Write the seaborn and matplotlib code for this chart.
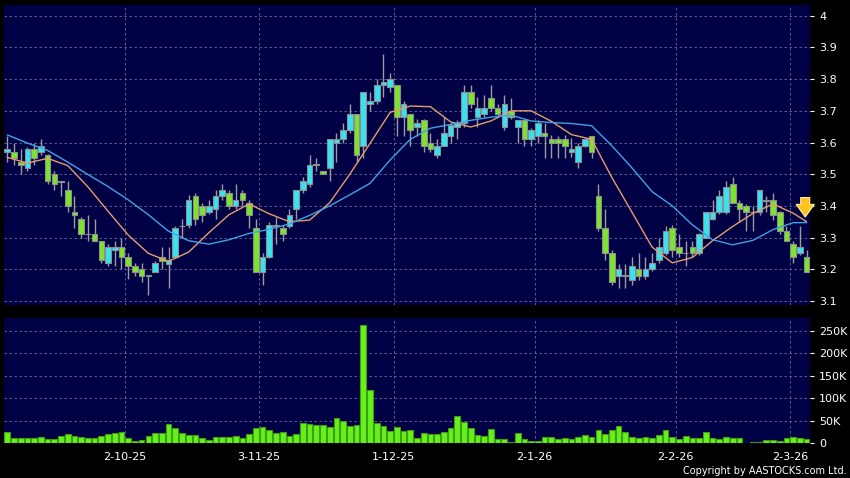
import numpy as np
import pandas as pd
import matplotlib
matplotlib.use("Agg")
import matplotlib.pyplot as plt
import seaborn as sns

# daily bars, oldest first
opens = [3.57, 3.57, 3.54, 3.52, 3.58, 3.57, 3.56, 3.50, 3.475, 3.45,
         3.38, 3.36, 3.31, 3.31, 3.29, 3.22, 3.26, 3.27, 3.24, 3.21,
         3.20, 3.18, 3.19, 3.24, 3.215, 3.24, 3.335, 3.34, 3.43, 3.40,
         3.38, 3.39, 3.43, 3.44, 3.40, 3.44, 3.41, 3.33, 3.19, 3.24,
         3.34, 3.33, 3.335, 3.39, 3.45, 3.47, 3.53, 3.51, 3.52, 3.60,
         3.61, 3.64, 3.69, 3.59, 3.72, 3.73, 3.78, 3.775, 3.78, 3.68,
         3.69, 3.65, 3.67, 3.60, 3.56, 3.59, 3.62, 3.65, 3.66, 3.76,
         3.68, 3.69, 3.74, 3.71, 3.65, 3.70, 3.65, 3.67, 3.61, 3.62,
         3.63, 3.61, 3.61, 3.61, 3.57, 3.54, 3.59, 3.62, 3.43, 3.33,
         3.25, 3.18, 3.18, 3.165, 3.20, 3.18, 3.20, 3.23, 3.25, 3.33,
         3.27, 3.25, 3.27, 3.25, 3.30, 3.36, 3.38, 3.38, 3.47, 3.41,
         3.40, 3.38, 3.38, 3.415, 3.42, 3.38, 3.32, 3.28, 3.25, 3.24]
highs = [3.62, 3.60, 3.58, 3.585, 3.60, 3.61, 3.565, 3.51, 3.48, 3.48,
         3.43, 3.365, 3.37, 3.36, 3.29, 3.28, 3.29, 3.30, 3.25, 3.22,
         3.22, 3.18, 3.225, 3.27, 3.27, 3.335, 3.36, 3.435, 3.44, 3.41,
         3.42, 3.45, 3.47, 3.45, 3.47, 3.45, 3.42, 3.36, 3.25, 3.35,
         3.365, 3.34, 3.39, 3.45, 3.49, 3.56, 3.55, 3.51, 3.61, 3.63,
         3.66, 3.72, 3.69, 3.76, 3.76, 3.80, 3.88, 3.82, 3.78, 3.73,
         3.69, 3.675, 3.675, 3.63, 3.61, 3.68, 3.66, 3.67, 3.78, 3.78,
         3.745, 3.75, 3.78, 3.72, 3.75, 3.74, 3.67, 3.67, 3.645, 3.67,
         3.66, 3.625, 3.62, 3.625, 3.615, 3.60, 3.615, 3.62, 3.47, 3.39,
         3.26, 3.215, 3.215, 3.24, 3.25, 3.24, 3.25, 3.30, 3.335, 3.34,
         3.31, 3.29, 3.29, 3.315, 3.38, 3.42, 3.45, 3.48, 3.49, 3.42,
         3.405, 3.40, 3.45, 3.43, 3.44, 3.385, 3.335, 3.29, 3.335, 3.26]
lows = [3.54, 3.53, 3.50, 3.51, 3.53, 3.56, 3.47, 3.45, 3.43, 3.38,
        3.33, 3.30, 3.29, 3.29, 3.22, 3.21, 3.21, 3.20, 3.17, 3.18,
        3.16, 3.12, 3.19, 3.20, 3.14, 3.235, 3.30, 3.33, 3.34, 3.35,
        3.375, 3.36, 3.42, 3.39, 3.39, 3.40, 3.33, 3.19, 3.15, 3.235,
        3.28, 3.29, 3.33, 3.36, 3.44, 3.46, 3.51, 3.50, 3.48, 3.54,
        3.60, 3.63, 3.54, 3.55, 3.70, 3.72, 3.745, 3.76, 3.62, 3.62,
        3.59, 3.62, 3.57, 3.57, 3.55, 3.59, 3.60, 3.61, 3.65, 3.71,
        3.65, 3.68, 3.70, 3.68, 3.64, 3.675, 3.60, 3.59, 3.59, 3.60,
        3.55, 3.55, 3.55, 3.55, 3.555, 3.52, 3.585, 3.55, 3.32, 3.23,
        3.15, 3.14, 3.14, 3.15, 3.165, 3.17, 3.195, 3.22, 3.245, 3.24,
        3.24, 3.21, 3.24, 3.245, 3.30, 3.355, 3.375, 3.375, 3.41, 3.35,
        3.32, 3.32, 3.37, 3.38, 3.355, 3.31, 3.29, 3.22, 3.245, 3.19]
closes = [3.58, 3.55, 3.53, 3.58, 3.55, 3.59, 3.48, 3.47, 3.475, 3.40,
          3.37, 3.31, 3.31, 3.29, 3.23, 3.27, 3.27, 3.24, 3.21, 3.19,
          3.18, 3.18, 3.22, 3.225, 3.23, 3.33, 3.335, 3.42, 3.36, 3.37,
          3.40, 3.43, 3.45, 3.40, 3.42, 3.42, 3.37, 3.19, 3.24, 3.34,
          3.335, 3.31, 3.37, 3.45, 3.48, 3.53, 3.53, 3.50, 3.61, 3.61,
          3.64, 3.69, 3.56, 3.76, 3.73, 3.78, 3.79, 3.80, 3.68, 3.72,
          3.64, 3.66, 3.59, 3.58, 3.59, 3.63, 3.655, 3.66, 3.76, 3.72,
          3.71, 3.71, 3.71, 3.69, 3.72, 3.68, 3.67, 3.61, 3.64, 3.66,
          3.62, 3.60, 3.60, 3.59, 3.58, 3.59, 3.61, 3.57, 3.33, 3.25,
          3.16, 3.20, 3.18, 3.21, 3.18, 3.20, 3.22, 3.27, 3.32, 3.26,
          3.25, 3.25, 3.25, 3.31, 3.38, 3.38, 3.43, 3.46, 3.41, 3.39,
          3.38, 3.38, 3.45, 3.415, 3.37, 3.32, 3.29, 3.24, 3.27, 3.19]
# volume in thousands of shares
volume_k = [24.4, 11.1, 11.1, 11.1, 12.5, 14, 9.5, 9.5, 16.2, 19.9,
            16.2, 13.3, 11.1, 12.5, 16.2, 19.9, 22, 24.4, 12.5, 5.9,
            7.4, 17, 23.7, 22.2, 42.2, 34.8, 23.7, 18.5, 18.5, 12.5,
            7.4, 14.8, 14.8, 14.8, 16.2, 11.1, 20, 34.8, 37, 29.6,
            22.2, 25.9, 17, 20.7, 44.4, 43, 40.7, 40.7, 35.5, 55.5,
            50.3, 39.2, 40.7, 262.7, 118.3, 44.4, 39.2, 27.3, 36.9, 27.3,
            29.6, 12.5, 23.6, 20.7, 21.5, 24.4, 33.3, 60.6, 46.6, 34.7,
            18.4, 16.2, 31.8, 8.9, 8.9, 2.2, 23.6, 9.6, 4.4, 4.4,
            14.8, 14.8, 8.9, 11.8, 8.9, 14.8, 17.7, 14, 29.6, 21.4,
            29.6, 38.4, 24.4, 14.8, 12.5, 14.8, 12.5, 18.4, 29.6, 14,
            9.6, 16.2, 11.1, 11.1, 24.4, 11.1, 8.9, 14.8, 11.1, 12.5,
            0.7, 3, 3, 7.4, 7.4, 5.9, 11.1, 14.8, 11.8, 10.4]

# moving averages as drawn on the chart, read every third bar (+ last bar)
ma10 = [3.553, 3.535, 3.550, 3.527, 3.46, 3.383, 3.308, 3.25, 3.225, 3.254,
        3.315, 3.372, 3.406, 3.375, 3.35, 3.355, 3.41, 3.50, 3.597, 3.695,
        3.715, 3.713, 3.665, 3.649, 3.668, 3.70, 3.70, 3.667, 3.625, 3.61,
        3.49, 3.38, 3.27, 3.22, 3.237, 3.29, 3.335, 3.376, 3.406, 3.377,
        3.35]
ma20 = [3.624, 3.598, 3.575, 3.538, 3.499, 3.461, 3.419, 3.372, 3.32, 3.29,
        3.279, 3.293, 3.313, 3.326, 3.343, 3.37, 3.40, 3.435, 3.471, 3.545,
        3.61, 3.645, 3.657, 3.67, 3.68, 3.686, 3.668, 3.663, 3.66, 3.653,
        3.59, 3.52, 3.445, 3.40, 3.34, 3.293, 3.277, 3.291, 3.325, 3.347,
        3.347]

# first trading day of each month shown
month_labels = ["2-10-25", "3-11-25", "1-12-25", "2-1-26", "2-2-26", "2-3-26"]
month_first_bar = [18, 38, 58, 79, 100, 117]
price_ticks = [3.1, 3.2, 3.3, 3.4, 3.5, 3.6, 3.7, 3.8, 3.9, 4.0]
volume_ticks_k = [0, 50, 100, 150, 200, 250]

NAVY = "#000044"
UP = "#38E2F2"
DOWN = "#7CE42C"
VOL = "#66F11C"
GRID = "#6C6C98"
ORANGE = "#E89C6C"
BLUE = "#3EA4E6"

df = pd.DataFrame({"open": opens, "high": highs, "low": lows,
                   "close": closes, "volume": volume_k})
df["bar"] = np.arange(len(df))
rising = df["close"] >= df["open"]

ma_bars = list(range(0, len(df) - 2, 3)) + [len(df) - 1]
ma_df = pd.DataFrame({"bar": ma_bars, "ma10": ma10, "ma20": ma20})

sns.set_style("dark", {"axes.facecolor": NAVY, "figure.facecolor": "black",
                       "axes.edgecolor": NAVY, "grid.color": GRID})
plt.rcParams["font.family"] = ["DejaVu Sans"]

fig = plt.figure(figsize=(8.5, 4.78), dpi=100, facecolor="black")
ax = fig.add_axes([0.00465, 0.3619, 0.9482, 0.6276])
axv = fig.add_axes([0.00465, 0.0726, 0.9482, 0.2615])

# candles
ax.vlines(df["bar"], df["low"], df["high"], color="#9C9C9C", linewidth=1, zorder=2)
body_low = np.minimum(df["open"], df["close"])
body_h = np.maximum((df["close"] - df["open"]).abs(), 0.002)
ax.bar(df["bar"], body_h, bottom=body_low, width=0.84,
       color=np.where(rising, UP, DOWN), edgecolor="#8E8E8E",
       linewidth=0.8, zorder=3)

sns.lineplot(data=ma_df, x="bar", y="ma10", ax=ax, color=ORANGE, linewidth=1, zorder=4)
sns.lineplot(data=ma_df, x="bar", y="ma20", ax=ax, color=BLUE, linewidth=1, zorder=4)

ax.annotate("", xy=(len(df) - 1.2, 3.356), xytext=(len(df) - 1.2, 3.435),
            arrowprops=dict(arrowstyle="simple,head_length=0.7,head_width=1.0,tail_width=0.5",
                            fc="#FFC21E", ec="#FFF1A8", lw=0.8, mutation_scale=13),
            zorder=6)

ax.set_xlim(-0.5, len(df) - 0.5)
ax.set_ylim(3.087, 4.034)
ax.yaxis.tick_right()
ax.set_yticks(price_ticks)
ax.set_yticklabels([f"{t:g}" for t in price_ticks])
ax.set_xticks(np.array(month_first_bar) - 0.5)
ax.tick_params(axis="x", length=0, labelbottom=False)
ax.tick_params(axis="y", colors="white", labelsize=8, length=3, pad=3.5)
ax.set_xlabel("")
ax.set_ylabel("")

# volume
sns.barplot(data=df, x="bar", y="volume", ax=axv, native_scale=True,
            color=VOL, saturation=1, edgecolor="#3E9E12", linewidth=0.8,
            width=0.85, errorbar=None, zorder=3)
axv.set_xlim(-0.5, len(df) - 0.5)
axv.set_ylim(0, 277.5)
axv.yaxis.tick_right()
axv.set_yticks(volume_ticks_k)
axv.set_yticklabels([f"{v}K" if v else "0" for v in volume_ticks_k])
axv.set_xticks(np.array(month_first_bar) - 0.5)
axv.set_xticklabels(month_labels)
axv.tick_params(axis="x", colors="white", labelsize=8, length=3, pad=3.5)
axv.tick_params(axis="y", colors="white", labelsize=8, length=3, pad=3.5)
axv.set_xlabel("")
axv.set_ylabel("")

for a in (ax, axv):
    a.grid(True, color=GRID, linestyle=(0, (3, 3)), linewidth=0.6)
    a.set_axisbelow(True)
    for s in a.spines.values():
        s.set_visible(False)

fig.text(0.9955, 0.009, "Copyright by AASTOCKS.com Ltd.", ha="right",
         va="baseline", color="white", fontsize=7.0)

fig.savefig("out.png", dpi=100, facecolor="black")
